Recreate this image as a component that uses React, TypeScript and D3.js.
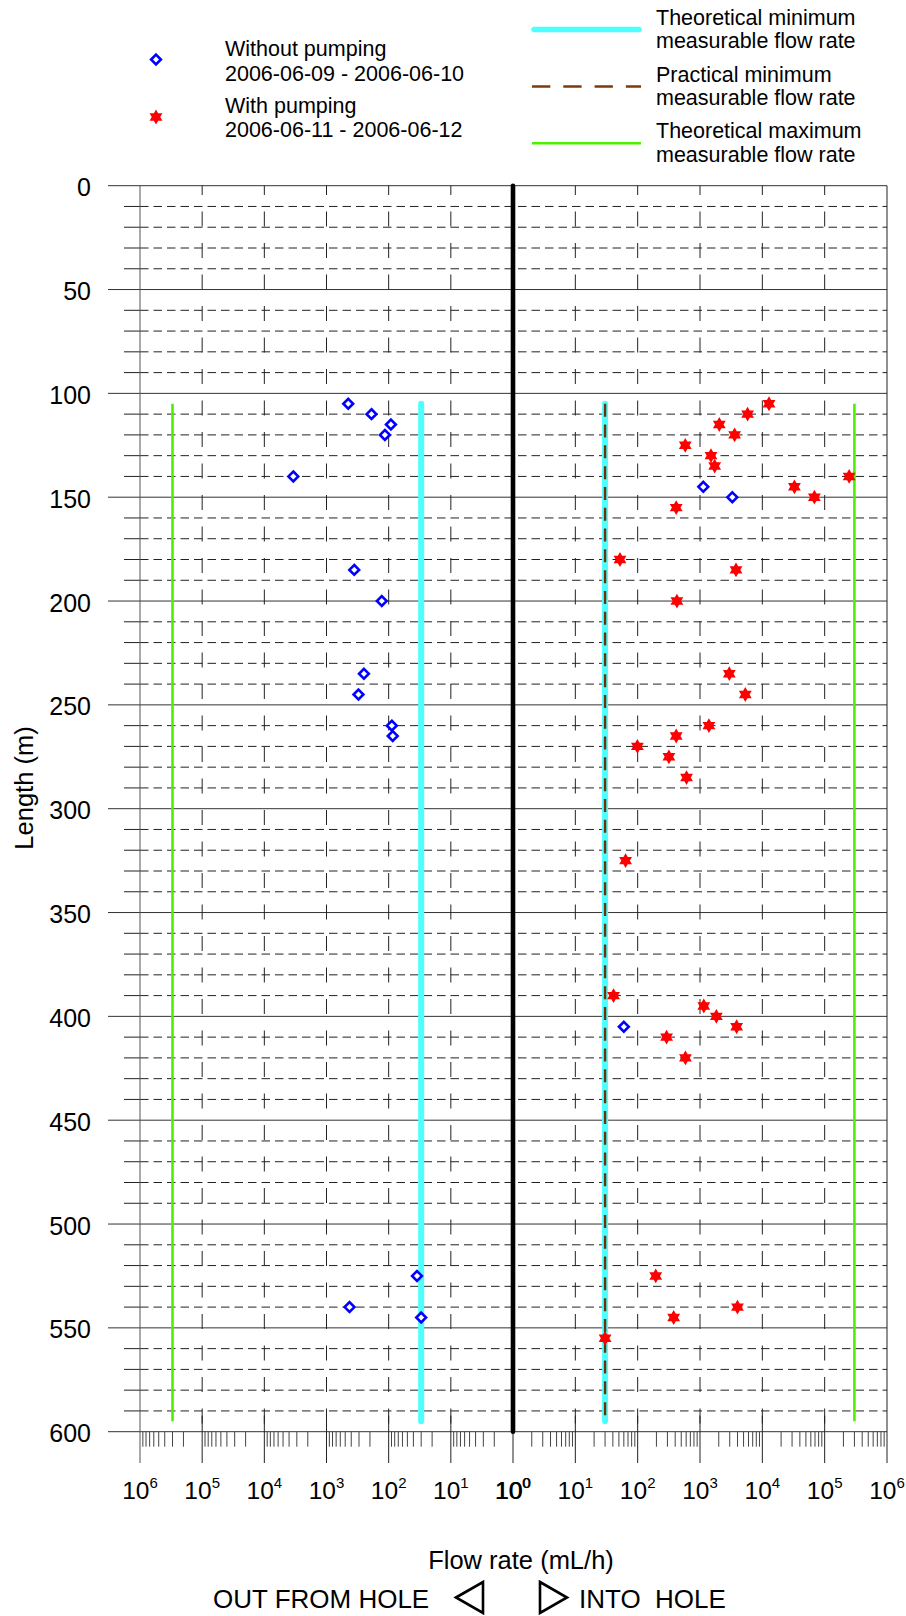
import React from "react";
import * as d3 from "d3";

// ---------- data ----------
// Without pumping (2006-06-09 - 2006-06-10): negative flow = out from hole
const noPumpDepth = [105, 110, 115, 120, 140, 145, 150, 185, 200, 235, 245, 260, 265, 405, 525, 540, 545];
const noPumpFlow = [-447, -189, -92, -115, -3420, 1130, 3300, -358, -129, -250, -306, -89, -86, 60, -35, -426, -30];

// With pumping (2006-06-11 - 2006-06-12): positive flow = into hole
const pumpDepth = [105, 110, 115, 120, 125, 130, 135, 140, 145, 150, 155, 180, 185, 200, 235, 245, 260, 265, 270, 275, 285, 325, 390, 395, 400, 405, 410, 420, 525, 540, 545, 555];
const pumpFlow = [12800, 5800, 2040, 3590, 580, 1500, 1720, 247000, 32700, 68400, 415, 52, 3780, 426, 2950, 5330, 1390, 415, 99, 317, 608, 64, 41, 1150, 1830, 3870, 291, 584, 195, 3990, 378, 30];

const theoMin = 30; // mL/h
const practMin = 30;
const theoMax = 300000;
const limitRange = [105, 595];

const yTicksMajor = [0, 50, 100, 150, 200, 250, 300, 350, 400, 450, 500, 550, 600];
const decades = [0, 1, 2, 3, 4, 5, 6];

const FONT = "'Liberation Sans', Arial, Helvetica, sans-serif";

function hexagram(r: number) {
  const pts = (a0: number) =>
    [0, 1, 2].map((i) => {
      const a = ((a0 + i * 120) * Math.PI) / 180;
      return [r * Math.cos(a), r * Math.sin(a)];
    });
  const tri = (p: number[][]) => `M${p[0][0]},${p[0][1]}L${p[1][0]},${p[1][1]}L${p[2][0]},${p[2][1]}Z`;
  return tri(pts(-90)) + tri(pts(90));
}

function Diamond({ x, y }: { x: number; y: number }) {
  const s = 4.9;
  return (
    <path
      d={`M${x},${y - s}L${x + s},${y}L${x},${y + s}L${x - s},${y}Z`}
      fill="white"
      stroke="#0000ff"
      strokeWidth={2.6}
    />
  );
}

function Star({ x, y }: { x: number; y: number }) {
  return <path d={hexagram(7.4)} transform={`translate(${x},${y})`} fill="#ff0000" />;
}

export default function App() {
  const W = 906;
  const H = 1616;
  const top = 185.7;
  const bottom = 1431.7;
  const left = 140;
  const right = 887;
  const center = 513;

  const y = d3.scaleLinear().domain([0, 600]).range([top, bottom]);
  const xR = d3.scaleLog().domain([1, 1e6]).range([center, right]);
  const xL = d3.scaleLog().domain([1, 1e6]).range([center, left]);
  const xs = (v: number) => (v >= 0 ? xR(v) : xL(-v));

  const minorY = d3.range(10, 600, 10).filter((d) => d % 50 !== 0);

  const minorX: number[] = [];
  for (let k = 0; k < 6; k++) {
    for (let m = 2; m <= 9; m++) {
      minorX.push(xL(m * Math.pow(10, k)));
      minorX.push(xR(m * Math.pow(10, k)));
    }
  }
  const decadeX = [
    ...decades.slice(1, 6).map((k) => xL(Math.pow(10, k))),
    ...decades.slice(1, 6).map((k) => xR(Math.pow(10, k))),
  ];

  return (
    <svg
      width={W}
      height={H}
      style={{ position: "absolute", left: 0, top: 0, background: "white" }}
      fontFamily={FONT}
    >
      <rect x={0} y={0} width={W} height={H} fill="white" />

      {/* legend left */}
      <Diamond x={156} y={59.5} />
      <Star x={156} y={117} />
      <g fontSize={21.5} fill="#000">
        <text x={225} y={56}>Without pumping</text>
        <text x={225} y={80.5}>2006-06-09 - 2006-06-10</text>
        <text x={225} y={112.5}>With pumping</text>
        <text x={225} y={136.7}>2006-06-11 - 2006-06-12</text>
      </g>

      {/* legend right */}
      <line x1={534} x2={639} y1={29.5} y2={29.5} stroke="#4dffff" strokeWidth={5.5} strokeLinecap="round" />
      <line x1={532} x2={641} y1={86.5} y2={86.5} stroke="#7f3a0c" strokeWidth={2.5} strokeDasharray="18.3 13" />
      <line x1={532} x2={641} y1={143.3} y2={143.3} stroke="#4cf000" strokeWidth={2.6} />
      <g fontSize={21.5} fill="#000">
        <text x={656} y={25}>Theoretical minimum</text>
        <text x={656} y={48.3}>measurable flow rate</text>
        <text x={656} y={81.7}>Practical minimum</text>
        <text x={656} y={105}>measurable flow rate</text>
        <text x={656} y={138.3}>Theoretical maximum</text>
        <text x={656} y={161.7}>measurable flow rate</text>
      </g>

      {/* horizontal dashed minor grid + ticks */}
      {minorY.map((d) => (
        <g key={"mg" + d}>
          <line x1={124} x2={left} y1={y(d)} y2={y(d)} stroke="#222" strokeWidth={1} />
          <line x1={left} x2={right} y1={y(d)} y2={y(d)} stroke="#222" strokeWidth={1} strokeDasharray="8.5 5" />
        </g>
      ))}
      {/* major grid */}
      {yTicksMajor.map((d) => (
        <line key={"Mg" + d} x1={108} x2={right} y1={y(d)} y2={y(d)} stroke="#333" strokeWidth={1} />
      ))}

      {/* vertical dashed decade lines */}
      {decadeX.map((x, i) => (
        <line
          key={"vd" + i}
          x1={x}
          x2={x}
          y1={top}
          y2={bottom}
          stroke="#222"
          strokeWidth={1}
          strokeDasharray="15 16.5"
          strokeDashoffset={5.7}
        />
      ))}

      {/* axes frame */}
      <line x1={left} x2={left} y1={top} y2={1463} stroke="#555" strokeWidth={1} />
      <line x1={right} x2={right} y1={top} y2={1463} stroke="#222" strokeWidth={1} />

      {/* bottom ticks */}
      {minorX.map((x, i) => (
        <line key={"mx" + i} x1={x} x2={x} y1={bottom} y2={bottom + 15} stroke="#444" strokeWidth={1} />
      ))}
      {decadeX.map((x, i) => (
        <line key={"Mx" + i} x1={x} x2={x} y1={bottom - 16} y2={1463} stroke="#222" strokeWidth={1} />
      ))}
      <line x1={center} x2={center} y1={bottom} y2={1463} stroke="#222" strokeWidth={1} />

      {/* y tick labels */}
      {yTicksMajor.map((d) => (
        <text key={"yl" + d} x={91} y={y(d) + 10.5} fontSize={25} textAnchor="end" fill="#000">
          {d}
        </text>
      ))}

      {/* x tick labels */}
      {decades.map((k) => (
        <g key={"xl" + k}>
          {(k === 0 ? [xR(1) - 0.4, xR(1) + 0.4] : [xL(Math.pow(10, k)), xR(Math.pow(10, k))]).map((x, j) => (
            <text key={j} x={x} y={1499} fontSize={24.5} textAnchor="middle" fill="#000">
              <tspan>10</tspan>
              <tspan dy={-11} fontSize={15}>
                {k}
              </tspan>
            </text>
          ))}
        </g>
      ))}

      {/* limit lines */}
      {[xL(theoMax), xR(theoMax)].map((x, i) => (
        <line key={"g" + i} x1={x} x2={x} y1={y(limitRange[0])} y2={y(limitRange[1])} stroke="#4cf000" strokeWidth={2.6} />
      ))}
      {[xL(theoMin), xR(theoMin)].map((x, i) => (
        <line
          key={"c" + i}
          x1={x}
          x2={x}
          y1={y(limitRange[0])}
          y2={y(limitRange[1])}
          stroke="#4dffff"
          strokeWidth={6}
          strokeLinecap="round"
        />
      ))}
      <line
        x1={xR(practMin)}
        x2={xR(practMin)}
        y1={y(limitRange[0])}
        y2={y(limitRange[1])}
        stroke="#6e3208"
        strokeWidth={2.4}
        strokeDasharray="13 7.8"
      />

      {/* center line */}
      <line x1={center} x2={center} y1={top} y2={bottom} stroke="#000" strokeWidth={4.6} strokeLinecap="round" />

      {/* data */}
      {pumpDepth.map((d, i) => (
        <Star key={"p" + i} x={xs(pumpFlow[i])} y={y(d)} />
      ))}
      {noPumpDepth.map((d, i) => (
        <Diamond key={"n" + i} x={xs(noPumpFlow[i])} y={y(d)} />
      ))}

      {/* axis titles */}
      <text
        transform={`translate(33,788) rotate(-90)`}
        fontSize={25.5}
        textAnchor="middle"
        fill="#000"
      >
        Length (m)
      </text>
      <text x={521} y={1569} fontSize={25.5} textAnchor="middle" fill="#000">
        Flow rate (mL/h)
      </text>
      <text x={213} y={1608} fontSize={26} fill="#000">
        OUT FROM HOLE
      </text>
      <text x={579} y={1608} fontSize={26} fill="#000" style={{ whiteSpace: "pre" }}>
        {"INTO  HOLE"}
      </text>
      <path d="M456,1597.5L483,1582L483,1613Z" fill="white" stroke="#000" strokeWidth={2.6} strokeLinejoin="miter" />
      <path d="M540,1582L567,1597.5L540,1613Z" fill="white" stroke="#000" strokeWidth={2.6} strokeLinejoin="miter" />
    </svg>
  );
}
